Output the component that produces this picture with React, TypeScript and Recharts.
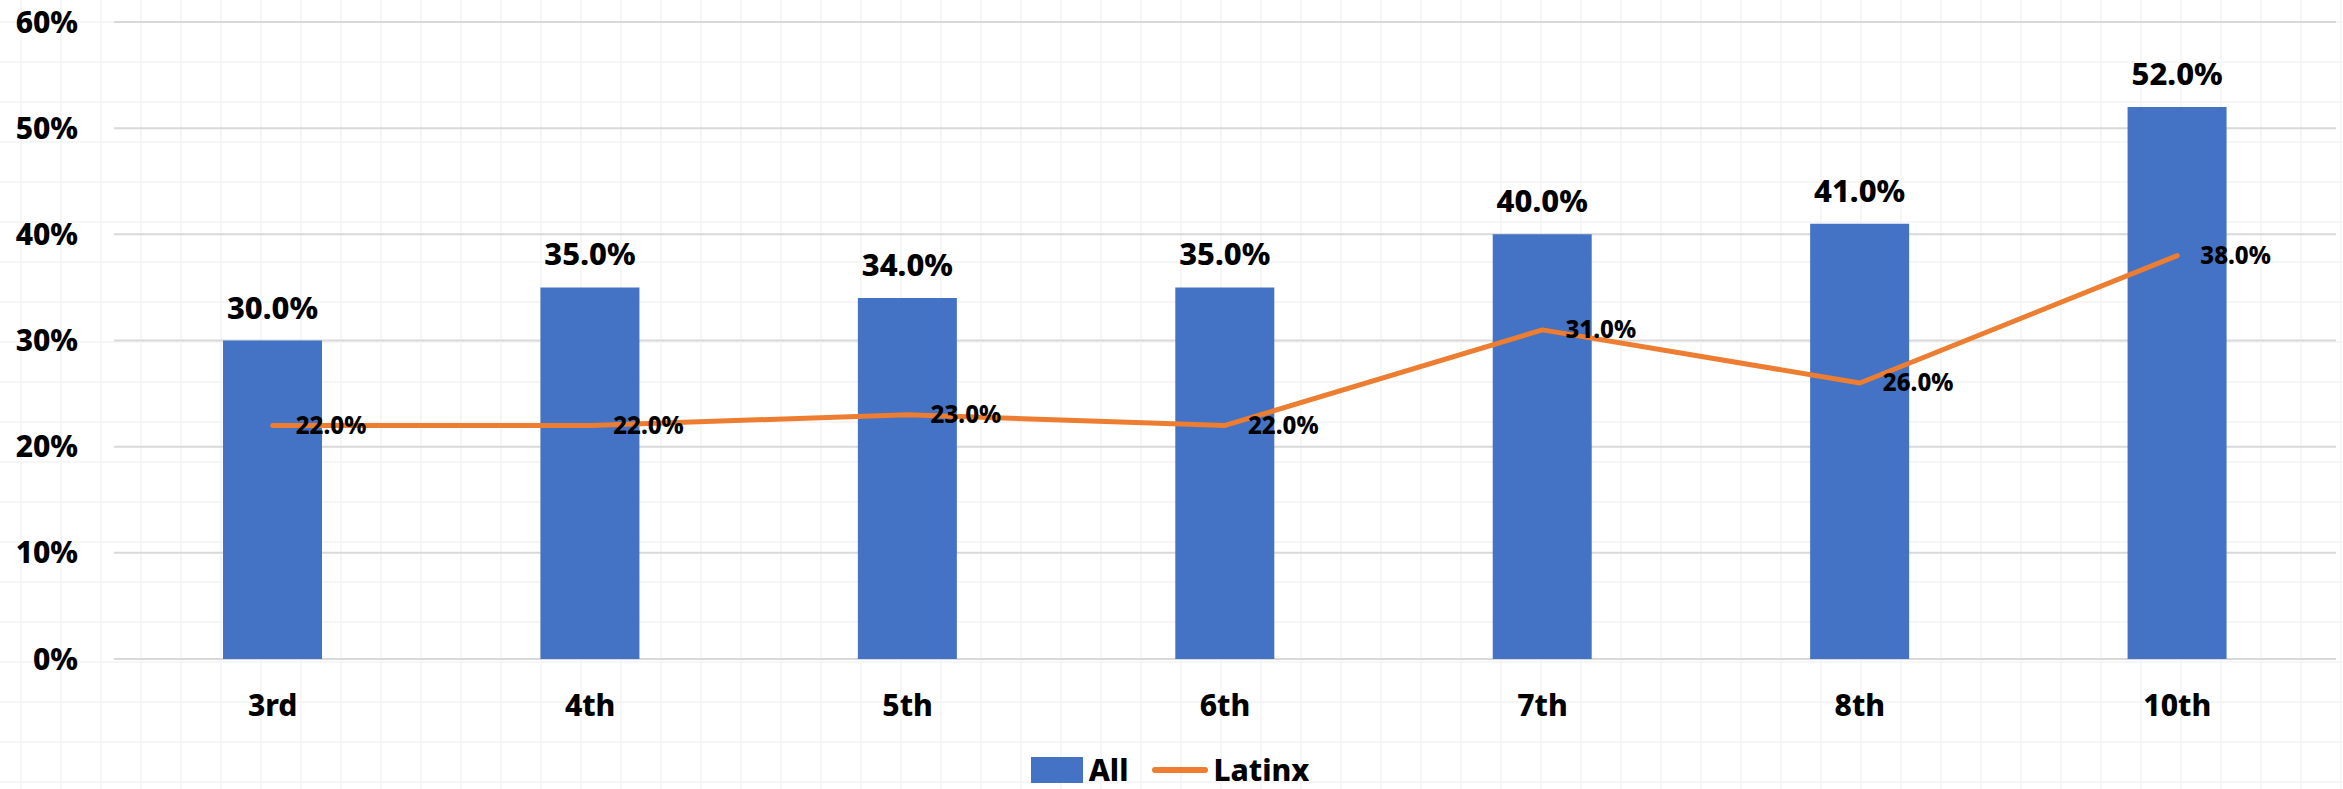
import React from "react"
import { Bar, ComposedChart, Line, XAxis, YAxis, CartesianGrid, Legend, LabelList } from "recharts"

// grades on the x axis
const grades = ["3rd", "4th", "5th", "6th", "7th", "8th", "10th"]
// percent values
const allValues = [30, 35, 34, 35, 40, 41, 52]
const latinxValues = [22, 22, 23, 22, 31, 26, 38]
const yTicks = [0, 10, 20, 30, 40, 50, 60]

const data = grades.map((grade, i) => ({
  grade,
  all: allValues[i],
  latinx: latinxValues[i],
}))

const FONT = "'Noto Sans', sans-serif"
const BLUE = "#4472C4"
const ORANGE = "#ED7D31"

const pct = (v: number) => `${Number(v).toFixed(1)}%`

function LineLabel(props: any) {
  const { x, y, value } = props
  return (
    <text
      x={x + 23}
      y={y}
      dy="0.35em"
      textAnchor="start"
      fontFamily={FONT}
      fontWeight={800}
      fontSize={24}
      fill="#000"
    >
      {pct(value)}
    </text>
  )
}

function LegendContent() {
  const text: React.CSSProperties = { fontFamily: FONT, fontWeight: 800, fontSize: 30, color: "#000", lineHeight: "30px" }
  return (
    <div style={{ height: 40, display: "flex", justifyContent: "center", alignItems: "flex-start", paddingTop: 6, boxSizing: "border-box" }}>
      <div style={{ display: "flex", alignItems: "center", marginLeft: 4 }}>
        <span style={{ width: 52, height: 26, background: BLUE, display: "inline-block", marginRight: 6 }} />
        <span style={text}>All</span>
      </div>
      <div style={{ display: "flex", alignItems: "center", marginLeft: 24 }}>
        <span style={{ width: 56, height: 6, borderRadius: 3, background: ORANGE, display: "inline-block", marginRight: 5 }} />
        <span style={text}>Latinx</span>
      </div>
    </div>
  )
}

export default function App() {
  return (
    <div
      style={{
        position: "absolute",
        left: 0,
        top: 0,
        width: 2343,
        height: 789,
        backgroundColor: "#fff",
        backgroundImage:
          "linear-gradient(to right, #f6f6f6 2px, transparent 2px), linear-gradient(to bottom, #f6f6f6 2px, transparent 2px)",
        backgroundSize: "40px 40px",
        backgroundPosition: "20px 21px",
        overflow: "hidden",
      }}
    >
      <ComposedChart width={2343} height={789} data={data} margin={{ top: 22, right: 7, left: 0, bottom: 0 }}>
        <CartesianGrid vertical={false} stroke="#d9d9d9" strokeWidth={2} />
        <XAxis
          dataKey="grade"
          axisLine={false}
          tickLine={false}
          height={90}
          tickMargin={30}
          tick={{ fontFamily: FONT, fontWeight: 800, fontSize: 30, fill: "#000" }}
        />
        <YAxis
          domain={[0, 60]}
          ticks={yTicks}
          width={114}
          axisLine={false}
          tickLine={false}
          tickMargin={30}
          tickFormatter={(v: number) => `${v}%`}
          tick={{ fontFamily: FONT, fontWeight: 800, fontSize: 30, fill: "#000" }}
        />
        <Legend verticalAlign="bottom" height={40} content={() => <LegendContent />} />
        <Bar dataKey="all" name="All" fill={BLUE} barSize={99} isAnimationActive={false}>
          <LabelList
            dataKey="all"
            position="top"
            offset={22}
            formatter={(v: any) => pct(v)}
            style={{ fontFamily: FONT, fontWeight: 800, fontSize: 31, fill: "#000" }}
          />
        </Bar>
        <Line
          dataKey="latinx"
          name="Latinx"
          stroke={ORANGE}
          strokeWidth={5}
          strokeLinecap="round"
          strokeLinejoin="round"
          dot={false}
          type="linear"
          isAnimationActive={false}
        >
          <LabelList dataKey="latinx" content={<LineLabel />} />
        </Line>
      </ComposedChart>
    </div>
  )
}
